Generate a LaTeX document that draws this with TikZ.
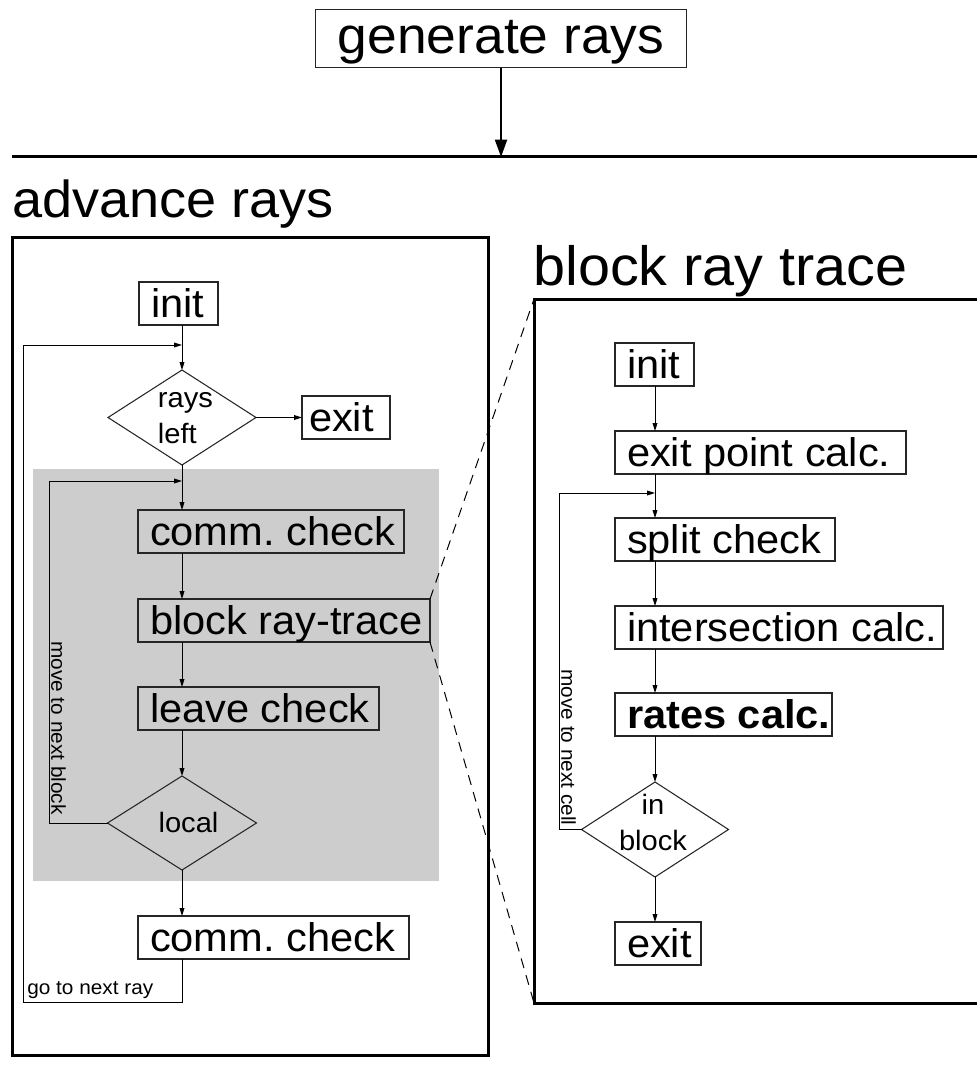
\documentclass[tikz,border=0pt]{standalone}
\usepackage{fontspec}
\setmainfont{Liberation Sans}[FakeStretch=1.04]
\usetikzlibrary{shapes.geometric,arrows.meta}
\newdimen\PX \PX=0.75pt
\newcommand{\boxtxt}[2]{\makebox[#1\PX][l]{#2}}
\definecolor{bggray}{RGB}{205,205,205}
\frenchspacing
\begin{document}
\begin{tikzpicture}[x=0.75pt,y=-0.75pt,
  box/.style={draw=black!85, line width=0.8pt, inner xsep=9pt, inner ysep=0pt,
    text height=26.25pt, text depth=6pt, anchor=north west,
    font=\fontsize{30}{36}\selectfont, outer sep=0pt},
  dia/.style={draw=black!85, diamond, line width=0.8pt, inner sep=0pt, outer sep=0pt},
  dtext/.style={font=\fontsize{21}{27}\selectfont, inner sep=0pt},
  small/.style={font=\fontsize{15}{18}\selectfont, inner sep=0pt},
  title/.style={inner sep=0pt, anchor=base west},
  arr/.style={line width=0.75pt, -{Triangle[length=6pt,width=3.6pt]}},
  bigarr/.style={line width=1.5pt, -{Triangle[length=13pt,width=9pt]}},
  frame/.style={line width=2.25pt},
  zoomline/.style={line width=0.75pt, dash pattern=on 7.5pt off 5.5pt},
]
\useasboundingbox (0,0) rectangle (977,1084);

% shaded loop region
\fill[bggray] (33,469) rectangle (439,881);

% top part
\node[draw=black!85, line width=0.8pt, anchor=north west, inner sep=0pt,
  minimum width=278.25pt, text height=33pt, text depth=10.5pt,
  font=\fontsize{38.5}{44}\selectfont] (gen) at (315,9) {generate rays};
\coordinate (hl) at (500,157);
\draw[frame] (12,157) -- (977,157);
\draw[bigarr] (gen.south) -- (gen.south |- hl);

% titles
\node[title, font=\fontsize{39}{46}\selectfont] (tadv) at (12,218) {advance rays};
\node[title, font=\fontsize{41.5}{48}\selectfont] (tblk) at (533,285) {block ray trace};

% frames
\draw[frame] (12,238) rectangle (488,1055);
\coordinate (rtl) at (534,299);
\coordinate (rbl) at (534,1003);
\draw[frame] (977,299) -- (rtl) -- (rbl) -- (977,1003);

% left flow
\node[box] (initL) at (139,282) {\boxtxt{55}{init}};
\node[dia, minimum width=111pt, minimum height=71.25pt] (rl) at (182,417.5) {};
\node[dtext, align=left] (rlt) at (185.5,418) {rays\\left};
\node[box] (exitL) at (302,396) {\boxtxt{64}{\hspace{-5\PX}exit}};
\node[box] (comm1) at (138,510) {\boxtxt{242}{comm. check}};
\node[box] (brt) at (138,599) {\boxtxt{268}{block ray-trace}};
\node[box] (leave) at (138,687) {\boxtxt{217}{leave check}};
\node[dia, minimum width=111.75pt, minimum height=70.5pt] (loc) at (182,823) {};
\node[dtext, anchor=base] (loct) at (188.5,832) {local};
\node[box] (comm2) at (138,916) {\boxtxt{247}{comm. check}};

\draw[arr] (initL.south -| rl.north) -- (rl.north);
\draw[arr] (rl.east) -- (rl.east -| exitL.west);
\draw[arr] (rl.south) -- (rl.south |- comm1.north);
\draw[arr] (comm1.south -| rl.south) -- (brt.north -| rl.south);
\draw[arr] (brt.south -| rl.south) -- (leave.north -| rl.south);
\draw[arr] (leave.south -| rl.south) -- (loc.north);
\draw[arr] (loc.south) -- (loc.south |- comm2.north);

\coordinate (j1) at (182,481);
\coordinate (k1) at (49,481);
\draw[arr] (loc.west) -| (k1) -- (j1);
\node[small, rotate=-90, anchor=south] (mnb) at (51,728) {move to next block};

\coordinate (k2) at (23,1002);
\coordinate (k3) at (23,345);
\coordinate (j2) at (182,345);
\draw[arr] (comm2.south -| loc.south) |- (k2) -- (k3) -- (j2);
\node[small, anchor=base west] (gtn) at (27,994) {go to next ray};

% zoom lines
\draw[zoomline] (brt.north east) -- (rtl);
\draw[zoomline] (brt.south east) -- (rbl);

% right flow
\node[box] (initR) at (615,343) {\boxtxt{55}{init}};
\node[box] (epc) at (615,431) {\boxtxt{267}{exit point calc.}};
\node[box] (split) at (615,518) {\boxtxt{196}{split check}};
\node[box] (inter) at (615,606) {\boxtxt{304}{intersection calc.}};
\node[box] (rates) at (615,693) {\boxtxt{193}{\textbf{rates calc.}}};
\node[dia, minimum width=110.25pt, minimum height=71.25pt] (inb) at (655,829.5) {};
\node[dtext, align=center] (inbt) at (653,822.5) {in\\block};
\node[box] (exitR) at (615,922) {\boxtxt{62}{exit}};

\draw[arr] (initR.south -| inb.north) -- (epc.north -| inb.north);
\draw[arr] (epc.south -| inb.north) -- (split.north -| inb.north);
\draw[arr] (split.south -| inb.north) -- (inter.north -| inb.north);
\draw[arr] (inter.south -| inb.north) -- (rates.north -| inb.north);
\draw[arr] (rates.south -| inb.north) -- (inb.north);
\draw[arr] (inb.south) -- (inb.south |- exitR.north);

\coordinate (j3) at (655,493);
\coordinate (k4) at (559,493);
\draw[arr] (inb.west) -| (k4) -- (j3);
\node[small, rotate=-90, anchor=south] (mnc) at (561,747.5) {move to next cell};
\end{tikzpicture}
\end{document}
